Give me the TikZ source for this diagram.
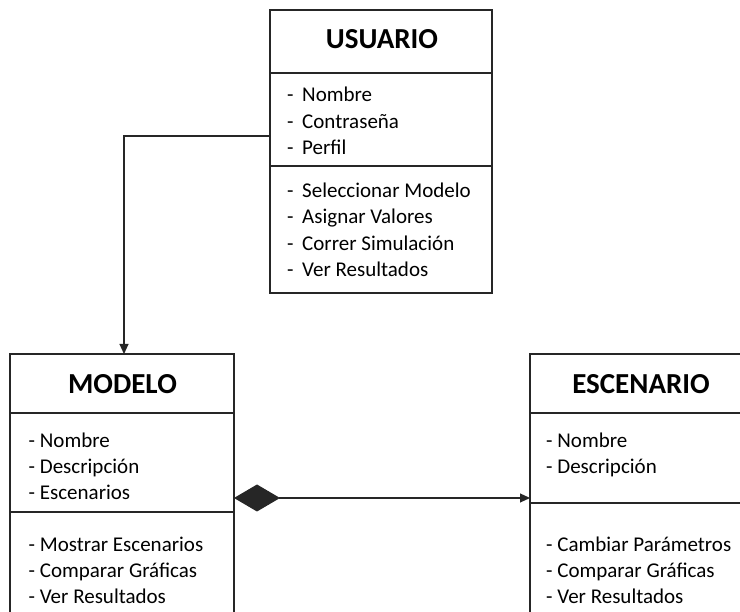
\documentclass[tikz,border=0pt]{standalone}
\usepackage{fontspec}
\setmainfont{Carlito}
\usetikzlibrary{arrows.meta}
\tikzset{
  classbox/.style={draw=black!85, line width=1.1pt, fill=none, anchor=north west, inner sep=0pt, outer sep=0pt},
  divider/.style={draw=black!85, line width=1.1pt},
  ctitle/.style={font=\bfseries\fontsize{29}{33}\selectfont, anchor=base, inner sep=0pt},
  item/.style={font=\fontsize{21}{24}\selectfont, anchor=base west, inner sep=0pt},
  conn/.style={draw=black!85, line width=1.1pt},
}
\newcommand{\udash}[1]{\makebox[15pt][l]{-}#1}
\begin{document}
\begin{tikzpicture}[x=1pt,y=-1pt]
\clip (0,0) rectangle (740,612);
\fill[white] (0,0) rectangle (740,612);

% USUARIO
\node[classbox, minimum width=222pt, minimum height=283pt] (usuario) at (270,10) {};
\coordinate (u1l) at (270,73); \coordinate (u1r) at (492,73);
\coordinate (u2l) at (270,166); \coordinate (u2r) at (492,166);
\draw[divider] (u1l) -- (u1r);
\draw[divider] (u2l) -- (u2r);
\node[ctitle] (ut) at (382,48.5) {USUARIO};
\node[item] (ua1) at (287,102) {\udash{Nombre}};
\node[item] (ua2) at (287,129) {\udash{Contraseña}};
\node[item] (ua3) at (287,155) {\udash{Perfil}};
\node[item] (um1) at (287,198) {\udash{Seleccionar Modelo}};
\node[item] (um2) at (287,224) {\udash{Asignar Valores}};
\node[item] (um3) at (287,251) {\udash{Correr Simulación}};
\node[item] (um4) at (287,277) {\udash{Ver Resultados}};

% MODELO
\node[classbox, minimum width=224pt, minimum height=290pt] (modelo) at (10,354) {};
\coordinate (m1l) at (10,413); \coordinate (m1r) at (234,413);
\coordinate (m2l) at (10,512); \coordinate (m2r) at (234,512);
\draw[divider] (m1l) -- (m1r);
\draw[divider] (m2l) -- (m2r);
\node[ctitle] (mt) at (122.5,393.5) {MODELO};
\node[item] (ma1) at (28.5,447.5) {- Nombre};
\node[item] (ma2) at (28.5,473.5) {- Descripción};
\node[item] (ma3) at (28.5,500) {- Escenarios};
\node[item] (mm1) at (28.5,552) {- Mostrar Escenarios};
\node[item] (mm2) at (28.5,578) {- Comparar Gráficas};
\node[item] (mm3) at (28.5,604) {- Ver Resultados};

% ESCENARIO
\node[classbox, minimum width=216pt, minimum height=290pt] (escenario) at (530,354) {};
\coordinate (e1l) at (530,413); \coordinate (e1r) at (746,413);
\coordinate (e2l) at (530,503); \coordinate (e2r) at (746,503);
\draw[divider] (e1l) -- (e1r);
\draw[divider] (e2l) -- (e2r);
\node[ctitle] (et) at (641,393.5) {ESCENARIO};
\node[item] (ea1) at (546,447.5) {- Nombre};
\node[item] (ea2) at (546,473.5) {- Descripción};
\node[item] (em1) at (546,552) {- Cambiar Parámetros};
\node[item] (em2) at (546,578) {- Comparar Gráficas};
\node[item] (em3) at (546,604) {- Ver Resultados};

% connectors
\coordinate (cu) at (270,136);
\coordinate (bend) at (124,136);
\coordinate (cm) at (124,354);
\draw[conn, -{Triangle[length=10pt,width=9pt]}] (cu) -- (bend) -- (cm);

\coordinate (ms) at (234,498);
\coordinate (es) at (530,498);
\draw[conn, {Diamond[length=46pt,width=27pt]}-{Triangle[length=10pt,width=9pt]}] (ms) -- (es);
\end{tikzpicture}
\end{document}
